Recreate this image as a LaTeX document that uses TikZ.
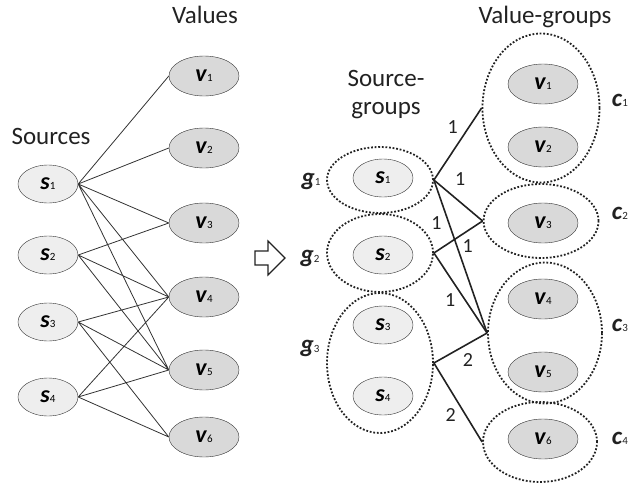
\documentclass[tikz,border=0pt]{standalone}
\usepackage{fontspec}
\setmainfont{Carlito}
\usepackage{tikz}
\usetikzlibrary{shapes.geometric}
\definecolor{Edge}{HTML}{333333}
\definecolor{Ink}{HTML}{222222}
\definecolor{SrcFill}{HTML}{EEEEEE}
\definecolor{ValFill}{HTML}{D9D9D9}
\newcommand{\sym}[2]{\textbf{\textit{#1}}{\fontsize{11}{11}\selectfont #2}}
\tikzset{
  src/.style={ellipse,draw=Edge,fill=SrcFill,minimum width=60pt,minimum height=38pt,
    inner sep=0pt,font=\fontsize{24}{24}\selectfont},
  val/.style={src,fill=ValFill,minimum width=70pt,minimum height=40pt},
  grp/.style={ellipse,draw=Ink,line width=1.8pt,dash pattern=on 1.8pt off 1.8pt,inner sep=0pt},
  heading/.style={font=\fontsize{25}{28}\selectfont,align=center,text=Ink},
  grplabel/.style={font=\fontsize{25}{25}\selectfont,inner sep=0pt,text=Ink},
  wt/.style={font=\fontsize{20}{20}\selectfont,inner sep=0pt,text=Ink},
  link/.style={Ink,line width=1.6pt}
}

\begin{document}
\begin{tikzpicture}[x=1pt,y=-1pt]
  \useasboundingbox (0,0) rectangle (630,490);
  % sources and values
  \node[heading] (valtitle) at (205,15) {Values};
  \node[heading] (srctitle) at (51,136) {Sources};
  \node[src] (s1) at (48,184) {\sym{s}{1}};
  \node[src] (s2) at (48,255) {\sym{s}{2}};
  \node[src] (s3) at (48,322) {\sym{s}{3}};
  \node[src] (s4) at (48,397) {\sym{s}{4}};
  \node[val] (v1) at (204,76) {\sym{v}{1}};
  \node[val] (v2) at (204,148) {\sym{v}{2}};
  \node[val] (v3) at (204,223) {\sym{v}{3}};
  \node[val] (v4) at (204,297) {\sym{v}{4}};
  \node[val] (v5) at (204,370) {\sym{v}{5}};
  \node[val] (v6) at (204,437) {\sym{v}{6}};
  \draw[Edge,line width=0.8pt]
    (s1.east) -- (v1.west) (s1.east) -- (v2.west) (s1.east) -- (v3.west)
    (s1.east) -- (v4.west) (s1.east) -- (v5.west)
    (s2.east) -- (v3.west) (s2.east) -- (v4.west) (s2.east) -- (v5.west)
    (s3.east) -- (v4.west) (s3.east) -- (v5.west) (s3.east) -- (v6.west)
    (s4.east) -- (v4.west) (s4.east) -- (v5.west) (s4.east) -- (v6.west);

  \draw[Ink,line width=1.2pt] (255,251) -- (268,251) -- (268,241) -- (285,258)
    -- (268,275) -- (268,265) -- (255,265) -- cycle;

  % groups
  \node[heading] (vgtitle) at (545,17) {Value-groups};
  \node[heading] (sgtitle) at (386,95) {Source-\\groups};
  \node[grp,minimum width=106pt,minimum height=66pt] (g1) at (380,180) {};
  \node[grp,minimum width=106pt,minimum height=78pt] (g2) at (380,253) {};
  \node[grp,minimum width=106pt,minimum height=140pt] (g3) at (380,363) {};
  \node[grp,minimum width=117pt,minimum height=149pt] (c1) at (541,108) {};
  \node[grp,minimum width=115pt,minimum height=74pt] (c2) at (541,221) {};
  \node[grp,minimum width=114pt,minimum height=141pt] (c3) at (545,333) {};
  \node[grp,minimum width=114pt,minimum height=80pt] (c4) at (540,442) {};
  \node[src] (gs1) at (383,178) {\sym{s}{1}};
  \node[src] (gs2) at (383,255) {\sym{s}{2}};
  \node[src] (gs3) at (383,325) {\sym{s}{3}};
  \node[src] (gs4) at (383,396) {\sym{s}{4}};
  \node[val] (gv1) at (543,84) {\sym{v}{1}};
  \node[val] (gv2) at (543,147) {\sym{v}{2}};
  \node[val] (gv3) at (543,223) {\sym{v}{3}};
  \node[val] (gv4) at (543,299) {\sym{v}{4}};
  \node[val] (gv5) at (543,372) {\sym{v}{5}};
  \node[val] (gv6) at (543,439) {\sym{v}{6}};
  \node[grplabel] (g1lbl) at (311,181) {\sym{g}{1}};
  \node[grplabel] (g2lbl) at (310,258) {\sym{g}{2}};
  \node[grplabel] (g3lbl) at (310,348) {\sym{g}{3}};
  \node[grplabel] (c1lbl) at (620,100) {\sym{c}{1}};
  \node[grplabel] (c2lbl) at (620,213) {\sym{c}{2}};
  \node[grplabel] (c3lbl) at (620,325) {\sym{c}{3}};
  \node[grplabel] (c4lbl) at (620,438) {\sym{c}{4}};

  \draw[link] (g1.east) -- (c1.west) node[wt,pos=0.5,xshift=-5pt,yshift=17pt] {1};
  \draw[link] (g1.east) -- (c2.west) node[wt,pos=0.5,xshift=2pt,yshift=21pt] {1};
  \draw[link] (g1.east) -- (c3.west) node[wt,pos=0.43,xshift=11pt] {1};
  \draw[link] (g2.east) -- (c2.west) node[wt,pos=0.05,yshift=28pt] {1};
  \draw[link] (g2.east) -- (c3.west) node[wt,pos=0.59,xshift=-15pt] {1};
  \draw[link] (g3.east) -- (c3.west) node[wt,pos=0.64,yshift=-16pt] {2};
  \draw[link] (g3.east) -- (c4.west) node[wt,pos=0.66,xshift=-15pt] {2};
\end{tikzpicture}
\end{document}
